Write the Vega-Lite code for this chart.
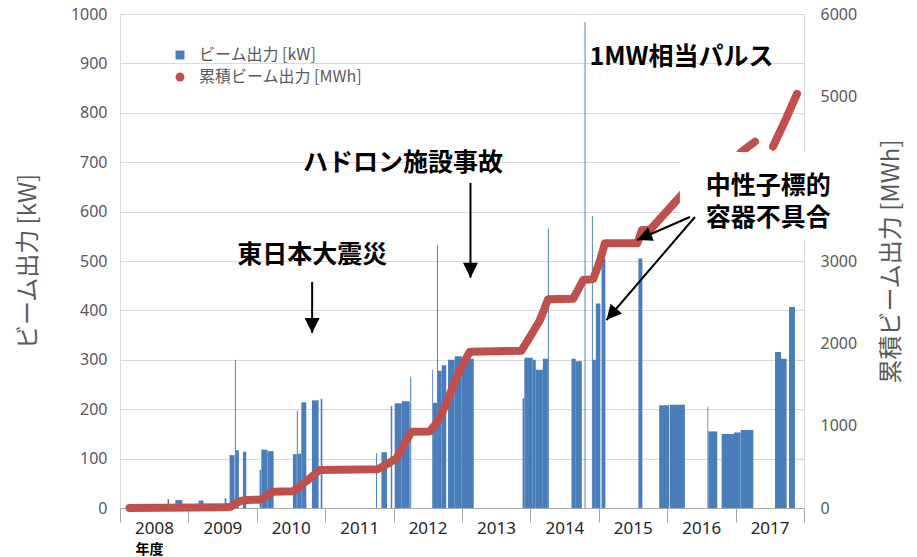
{
  "$schema": "https://vega.github.io/schema/vega-lite/v6.json",
  "autosize": {"type": "none"},
  "padding": {"left": 120, "top": 14, "right": 113, "bottom": 49},
  "width": 684,
  "height": 494,
  "config": {
    "view": {"stroke": "#d9d9d9", "strokeWidth": 1},
    "font": "Noto Sans CJK JP",
    "legend": {
      "orient": "none", "legendX": 52, "legendY": 33, "padding": 0,
      "labelFontSize": 16, "labelColor": "#595959", "labelFont": "Noto Sans CJK JP", "labelLimit": 0,
      "symbolSize": 80, "rowPadding": 6, "labelOffset": 11, "symbolStrokeWidth": 0
    }
  },
  "layer": [
    {
      "data": {"values": [
        {"x0": 2008.695, "x1": 2008.717, "v": 18},
        {"x0": 2008.808, "x1": 2008.910, "v": 16},
        {"x0": 2009.149, "x1": 2009.222, "v": 15},
        {"x0": 2009.529, "x1": 2009.554, "v": 20},
        {"x0": 2009.602, "x1": 2009.675, "v": 107},
        {"x0": 2009.680, "x1": 2009.694, "v": 300},
        {"x0": 2009.694, "x1": 2009.738, "v": 117},
        {"x0": 2009.797, "x1": 2009.846, "v": 114},
        {"x0": 2010.041, "x1": 2010.063, "v": 77},
        {"x0": 2010.066, "x1": 2010.158, "v": 118},
        {"x0": 2010.158, "x1": 2010.246, "v": 115},
        {"x0": 2010.528, "x1": 2010.585, "v": 109},
        {"x0": 2010.585, "x1": 2010.600, "v": 197},
        {"x0": 2010.600, "x1": 2010.651, "v": 110},
        {"x0": 2010.651, "x1": 2010.724, "v": 214},
        {"x0": 2010.806, "x1": 2010.904, "v": 218},
        {"x0": 2010.934, "x1": 2010.958, "v": 221},
        {"x0": 2011.743, "x1": 2011.757, "v": 111},
        {"x0": 2011.822, "x1": 2011.904, "v": 113},
        {"x0": 2011.958, "x1": 2011.980, "v": 206},
        {"x0": 2012.016, "x1": 2012.119, "v": 212},
        {"x0": 2012.119, "x1": 2012.236, "v": 216},
        {"x0": 2012.243, "x1": 2012.258, "v": 266},
        {"x0": 2012.565, "x1": 2012.577, "v": 280},
        {"x0": 2012.577, "x1": 2012.634, "v": 213},
        {"x0": 2012.634, "x1": 2012.648, "v": 532},
        {"x0": 2012.648, "x1": 2012.704, "v": 278},
        {"x0": 2012.704, "x1": 2012.770, "v": 289},
        {"x0": 2012.796, "x1": 2012.894, "v": 300},
        {"x0": 2012.894, "x1": 2012.997, "v": 307},
        {"x0": 2012.997, "x1": 2013.172, "v": 302},
        {"x0": 2013.885, "x1": 2013.911, "v": 222},
        {"x0": 2013.911, "x1": 2014.035, "v": 304},
        {"x0": 2014.035, "x1": 2014.079, "v": 300},
        {"x0": 2014.079, "x1": 2014.182, "v": 280},
        {"x0": 2014.182, "x1": 2014.255, "v": 302},
        {"x0": 2014.255, "x1": 2014.270, "v": 566},
        {"x0": 2014.601, "x1": 2014.664, "v": 302},
        {"x0": 2014.664, "x1": 2014.752, "v": 297},
        {"x0": 2014.792, "x1": 2014.806, "v": 984},
        {"x0": 2014.899, "x1": 2014.913, "v": 591},
        {"x0": 2014.913, "x1": 2014.957, "v": 300},
        {"x0": 2014.957, "x1": 2015.023, "v": 414},
        {"x0": 2015.040, "x1": 2015.096, "v": 505},
        {"x0": 2015.579, "x1": 2015.637, "v": 505},
        {"x0": 2015.883, "x1": 2016.030, "v": 208},
        {"x0": 2016.040, "x1": 2016.259, "v": 209},
        {"x0": 2016.588, "x1": 2016.600, "v": 205},
        {"x0": 2016.600, "x1": 2016.732, "v": 155},
        {"x0": 2016.796, "x1": 2016.976, "v": 150},
        {"x0": 2016.976, "x1": 2017.074, "v": 153},
        {"x0": 2017.074, "x1": 2017.259, "v": 158},
        {"x0": 2017.576, "x1": 2017.664, "v": 316},
        {"x0": 2017.664, "x1": 2017.747, "v": 302},
        {"x0": 2017.781, "x1": 2017.868, "v": 407}
      ]},
      "mark": {"type": "bar", "color": "#4a7ebb"},
      "encoding": {
        "x": {
          "field": "x0", "type": "quantitative",
          "scale": {"domain": [2008, 2018], "nice": false, "zero": false},
          "axis": {
            "values": [2008, 2009, 2010, 2011, 2012, 2013, 2014, 2015, 2016, 2017, 2018],
            "format": "d",
            "labelExpr": "datum.value < 2018 ? datum.label : ''",
            "labelOffset": 34, "labelFlush": false, "labelBound": false, "labelOverlap": false,
            "grid": false, "tickSize": 14, "tickColor": "#a6a6a6", "domainColor": "#a6a6a6",
            "labelColor": "#262626", "labelFont": "Noto Sans", "labelFontSize": 17, "labelPadding": -2,
            "title": "年度", "titleFont": "Noto Sans CJK JP", "titleFontSize": 14, "titleFontWeight": "bold",
            "titleColor": "#000000", "titleX": 29, "titleY": 41, "titleAlign": "center", "titleBaseline": "middle"
          }
        },
        "x2": {"field": "x1"},
        "y": {
          "field": "v", "type": "quantitative",
          "scale": {"domain": [0, 1000], "nice": false},
          "axis": {
            "orient": "left", "values": [0, 100, 200, 300, 400, 500, 600, 700, 800, 900, 1000], "format": "d",
            "grid": true, "gridColor": "#d9d9d9", "ticks": false, "domain": false,
            "labelPadding": 13, "labelFont": "Noto Sans", "labelFontSize": 16, "labelColor": "#595959",
            "title": "ビーム出力 [kW]", "titleFont": "Noto Sans CJK JP", "titleFontSize": 24, "titleFontWeight": "normal",
            "titleColor": "#595959", "titleAngle": 270, "titleX": -92, "titleY": 247, "titleAlign": "center", "titleBaseline": "middle"
          }
        },
        "y2": {"datum": 0},
        "color": {
          "datum": "ビーム出力 [kW]",
          "scale": {"domain": ["ビーム出力 [kW]", "累積ビーム出力 [MWh]"], "range": ["#4a7ebb", "#c0504d"]},
          "legend": {"title": null}
        }
      }
    },
    {
      "data": {"values": [
        {"yr": 2008.139, "mwh": 0, "seg": 1},
        {"yr": 2009.573, "mwh": 8, "seg": 1},
        {"yr": 2009.631, "mwh": 20, "seg": 1},
        {"yr": 2009.690, "mwh": 55, "seg": 1},
        {"yr": 2009.763, "mwh": 85, "seg": 1},
        {"yr": 2009.851, "mwh": 97, "seg": 1},
        {"yr": 2010.041, "mwh": 100, "seg": 1},
        {"yr": 2010.100, "mwh": 120, "seg": 1},
        {"yr": 2010.231, "mwh": 198, "seg": 1},
        {"yr": 2010.524, "mwh": 203, "seg": 1},
        {"yr": 2010.597, "mwh": 240, "seg": 1},
        {"yr": 2010.663, "mwh": 290, "seg": 1},
        {"yr": 2010.729, "mwh": 330, "seg": 1},
        {"yr": 2010.802, "mwh": 380, "seg": 1},
        {"yr": 2010.919, "mwh": 462, "seg": 1},
        {"yr": 2011.767, "mwh": 470, "seg": 1},
        {"yr": 2011.899, "mwh": 530, "seg": 1},
        {"yr": 2012.041, "mwh": 603, "seg": 1},
        {"yr": 2012.119, "mwh": 720, "seg": 1},
        {"yr": 2012.260, "mwh": 927, "seg": 1},
        {"yr": 2012.528, "mwh": 930, "seg": 1},
        {"yr": 2012.645, "mwh": 1050, "seg": 1},
        {"yr": 2012.773, "mwh": 1272, "seg": 1},
        {"yr": 2012.865, "mwh": 1470, "seg": 1},
        {"yr": 2012.967, "mwh": 1676, "seg": 1},
        {"yr": 2013.114, "mwh": 1898, "seg": 1},
        {"yr": 2013.870, "mwh": 1911, "seg": 1},
        {"yr": 2014.040, "mwh": 2142, "seg": 1},
        {"yr": 2014.138, "mwh": 2280, "seg": 1},
        {"yr": 2014.259, "mwh": 2535, "seg": 1},
        {"yr": 2014.625, "mwh": 2540, "seg": 1},
        {"yr": 2014.771, "mwh": 2769, "seg": 1},
        {"yr": 2014.918, "mwh": 2780, "seg": 1},
        {"yr": 2015.016, "mwh": 3000, "seg": 1},
        {"yr": 2015.089, "mwh": 3215, "seg": 1},
        {"yr": 2015.564, "mwh": 3215, "seg": 1},
        {"yr": 2015.630, "mwh": 3377, "seg": 1},
        {"yr": 2015.747, "mwh": 3377, "seg": 1},
        {"yr": 2016.186, "mwh": 3781, "seg": 1},
        {"yr": 2016.259, "mwh": 3850, "seg": 1},
        {"yr": 2016.596, "mwh": 3860, "seg": 1},
        {"yr": 2017.089, "mwh": 4328, "seg": 1},
        {"yr": 2017.284, "mwh": 4450, "seg": 1},
        {"yr": 2017.547, "mwh": 4390, "seg": 2},
        {"yr": 2017.722, "mwh": 4700, "seg": 2},
        {"yr": 2017.898, "mwh": 5030, "seg": 2}
      ]},
      "encoding": {
        "x": {"field": "yr", "type": "quantitative", "scale": {"domain": [2008, 2018], "nice": false, "zero": false}},
        "y": {
          "field": "mwh", "type": "quantitative",
          "scale": {"domain": [0, 6000], "nice": false},
          "axis": {
            "orient": "right", "values": [0, 1000, 2000, 3000, 5000, 6000], "format": "d",
            "grid": false, "ticks": false, "domain": false,
            "labelPadding": 16, "labelFont": "Noto Sans", "labelFontSize": 16, "labelColor": "#595959",
            "title": "累積ビーム出力 [MWh]", "titleFont": "Noto Sans CJK JP", "titleFontSize": 24, "titleFontWeight": "normal",
            "titleColor": "#595959", "titleAngle": 270, "titleX": 87, "titleY": 247, "titleAlign": "center", "titleBaseline": "middle"
          }
        }
      },
      "layer": [
        {
          "mark": {"type": "line", "color": "#c0504d", "strokeWidth": 8, "strokeCap": "round", "strokeJoin": "round"},
          "encoding": {"detail": {"field": "seg", "type": "nominal"}}
        },
        {
          "mark": {"type": "point", "filled": true, "size": 30, "opacity": 1},
          "encoding": {
            "color": {
              "datum": "累積ビーム出力 [MWh]",
              "scale": {"domain": ["ビーム出力 [kW]", "累積ビーム出力 [MWh]"], "range": ["#4a7ebb", "#c0504d"]},
              "legend": {"title": null}
            },
            "shape": {
              "datum": "累積ビーム出力 [MWh]",
              "scale": {"domain": ["ビーム出力 [kW]", "累積ビーム出力 [MWh]"], "range": ["square", "circle"]},
              "legend": {"title": null}
            }
          }
        }
      ]
    },
    {
      "layer": [
        {
          "data": {"values": [{"x": 2016.186, "x2": 2018.819, "y": 720.6, "y2": 542.5}]},
          "mark": {"type": "rect", "fill": "#ffffff"},
          "encoding": {
            "x": {"field": "x", "type": "quantitative", "scale": {"domain": [2008, 2018], "nice": false, "zero": false}},
            "x2": {"field": "x2"},
            "y": {"field": "y", "type": "quantitative", "scale": {"domain": [0, 1000], "nice": false}, "axis": null},
            "y2": {"field": "y2"}
          }
        },
        {
          "data": {"values": [
            {"x": 2010.809, "y": 457.5, "x2": 2010.809, "y2": 354.3},
            {"x": 2013.124, "y": 657.9, "x2": 2013.124, "y2": 466.2},
            {"x": 2016.332, "y": 589.1, "x2": 2015.561, "y2": 542.5},
            {"x": 2016.405, "y": 589.1, "x2": 2015.113, "y2": 380.6}
          ]},
          "mark": {"type": "rule", "color": "#000000", "strokeWidth": 2},
          "encoding": {
            "x": {"field": "x", "type": "quantitative", "scale": {"domain": [2008, 2018], "nice": false, "zero": false}},
            "x2": {"field": "x2"},
            "y": {"field": "y", "type": "quantitative", "scale": {"domain": [0, 1000], "nice": false}, "axis": null},
            "y2": {"field": "y2"}
          }
        },
        {
          "data": {"values": [
            {"x": 2010.809, "y": 354.3},
            {"x": 2013.124, "y": 466.2}
          ]},
          "mark": {"type": "point", "shape": "M-0.5,-1L0.5,-1L0,0Z", "size": 900, "filled": true, "color": "#000000", "opacity": 1, "angle": 0},
          "encoding": {
            "x": {"field": "x", "type": "quantitative", "scale": {"domain": [2008, 2018], "nice": false, "zero": false}},
            "y": {"field": "y", "type": "quantitative", "scale": {"domain": [0, 1000], "nice": false}, "axis": null}
          }
        },
        {
          "data": {"values": [{"x": 2015.561, "y": 542.5}]},
          "mark": {"type": "point", "shape": "M-0.5,-1L0.5,-1L0,0Z", "size": 900, "filled": true, "color": "#000000", "opacity": 1, "angle": 66.4},
          "encoding": {
            "x": {"field": "x", "type": "quantitative", "scale": {"domain": [2008, 2018], "nice": false, "zero": false}},
            "y": {"field": "y", "type": "quantitative", "scale": {"domain": [0, 1000], "nice": false}, "axis": null}
          }
        },
        {
          "data": {"values": [{"x": 2015.113, "y": 380.6}]},
          "mark": {"type": "point", "shape": "M-0.5,-1L0.5,-1L0,0Z", "size": 900, "filled": true, "color": "#000000", "opacity": 1, "angle": 40.6},
          "encoding": {
            "x": {"field": "x", "type": "quantitative", "scale": {"domain": [2008, 2018], "nice": false, "zero": false}},
            "y": {"field": "y", "type": "quantitative", "scale": {"domain": [0, 1000], "nice": false}, "axis": null}
          }
        },
        {
          "data": {"values": [
            {"t": "1MW相当パルス", "x": 2016.208, "y": 913},
            {"t": "ハドロン施設事故", "x": 2012.138, "y": 698},
            {"t": "東日本大震災", "x": 2010.809, "y": 512},
            {"t": "中性子標的\n容器不具合", "x": 2017.478, "y": 651}
          ]},
          "mark": {"type": "text", "font": "Noto Sans CJK JP", "fontSize": 25, "fontWeight": "bold", "color": "#000000", "align": "center", "baseline": "middle", "lineBreak": "\n", "lineHeight": 32},
          "encoding": {
            "x": {"field": "x", "type": "quantitative", "scale": {"domain": [2008, 2018], "nice": false, "zero": false}},
            "y": {"field": "y", "type": "quantitative", "scale": {"domain": [0, 1000], "nice": false}, "axis": null},
            "text": {"field": "t", "type": "nominal"}
          }
        }
      ]
    }
  ],
  "resolve": {"scale": {"y": "independent"}}
}
